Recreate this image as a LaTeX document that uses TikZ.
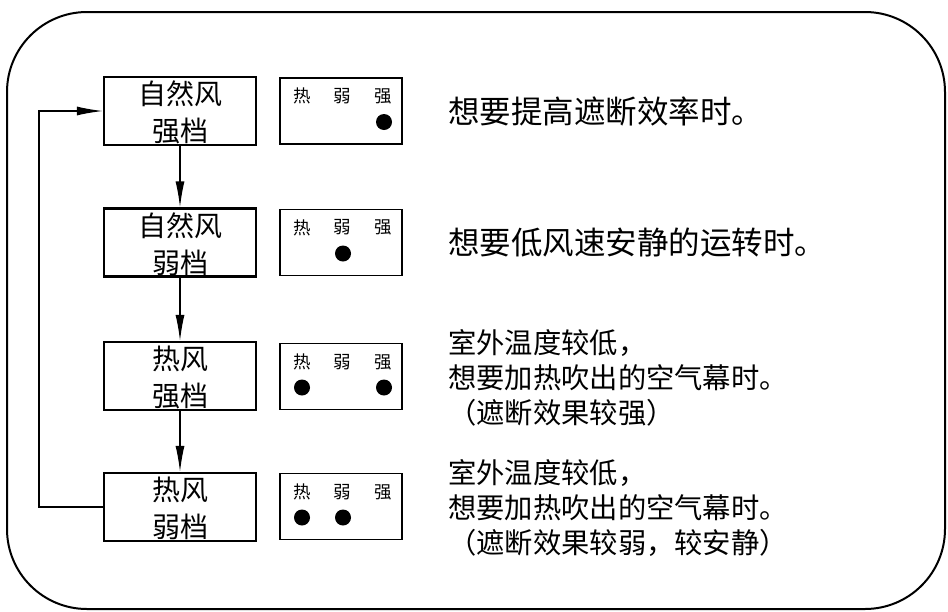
\documentclass[tikz,border=0pt]{standalone}
\usepackage{fontspec}
\usepackage{tikz}
\usetikzlibrary{arrows.meta}
\newfontfamily\cjk{Noto Sans CJK SC}

\begin{document}
\begin{tikzpicture}[x=1pt,y=-1pt,
  modebox/.style={draw,line width=2.3pt,minimum width=152pt,minimum height=68pt,inner sep=0pt,text height=63.5pt,align=center,font=\cjk\fontsize{28}{37}\selectfont},
  lampbox/.style={draw,line width=1.3pt,minimum width=122pt,minimum height=66pt,inner sep=0pt},
  lamplabel/.style={inner sep=0pt,font=\cjk\fontsize{17.5}{17.5}\selectfont},
  note/.style={anchor=west,inner sep=0pt,align=left,font=\cjk\fontsize{31.5}{36}\selectfont},
  smallnote/.style={note,font=\cjk\fontsize{28.3}{35}\selectfont},
  flow/.style={line width=1.3pt,-{Latex[length=26pt,width=9pt]}}]
\useasboundingbox (0,0) rectangle (948,611);
\draw[line width=2pt,rounded corners=80pt] (7,12) rectangle (945,609);
\node[modebox] (m1) at (180,111) {自然风\\强档};
\node[modebox] (m2) at (180,242.5) {自然风\\弱档};
\node[modebox] (m3) at (180,376) {热风\\强档};
\node[modebox] (m4) at (180,507) {热风\\弱档};
\draw[flow] (m1) -- (m2);
\draw[flow] (m2) -- (m3);
\draw[flow] (m3) -- (m4);
\draw[flow] (m4.west) -- ++(-64,0) |- (m1.west);
\node[lampbox] (l1) at (341,111) {};
\node[lampbox] (l2) at (341,242.5) {};
\node[lampbox] (l3) at (341,376.5) {};
\node[lampbox] (l4) at (341,506.5) {};
\node[lamplabel] (l1h) at (302,96) {热};
\node[lamplabel] (l1r) at (342,96) {弱};
\node[lamplabel] (l1s) at (383,96) {强};
\node[lamplabel] (l2h) at (302,227.5) {热};
\node[lamplabel] (l2r) at (342,227.5) {弱};
\node[lamplabel] (l2s) at (383,227.5) {强};
\node[lamplabel] (l3h) at (302,362) {热};
\node[lamplabel] (l3r) at (342,362) {弱};
\node[lamplabel] (l3s) at (383,362) {强};
\node[lamplabel] (l4h) at (302,492) {热};
\node[lamplabel] (l4r) at (342,492) {弱};
\node[lamplabel] (l4s) at (383,492) {强};
\fill (384,122) circle[radius=8pt];
\fill (343,253.5) circle[radius=8pt];
\fill (302,387.5) circle[radius=8pt];
\fill (384,387.5) circle[radius=8pt];
\fill (302,517.5) circle[radius=8pt];
\fill (343,517.5) circle[radius=8pt];
\node[note] (n1) at (448,111) {想要提高遮断效率时。};
\node[note] (n2) at (448,243) {想要低风速安静的运转时。};
\node[smallnote] (n3) at (448,377.5) {室外温度较低，\\想要加热吹出的空气幕时。\\（遮断效果较强）};
\node[smallnote] (n4) at (448,507.5) {室外温度较低，\\想要加热吹出的空气幕时。\\（遮断效果较弱，较安静）};
\end{tikzpicture}
\end{document}
